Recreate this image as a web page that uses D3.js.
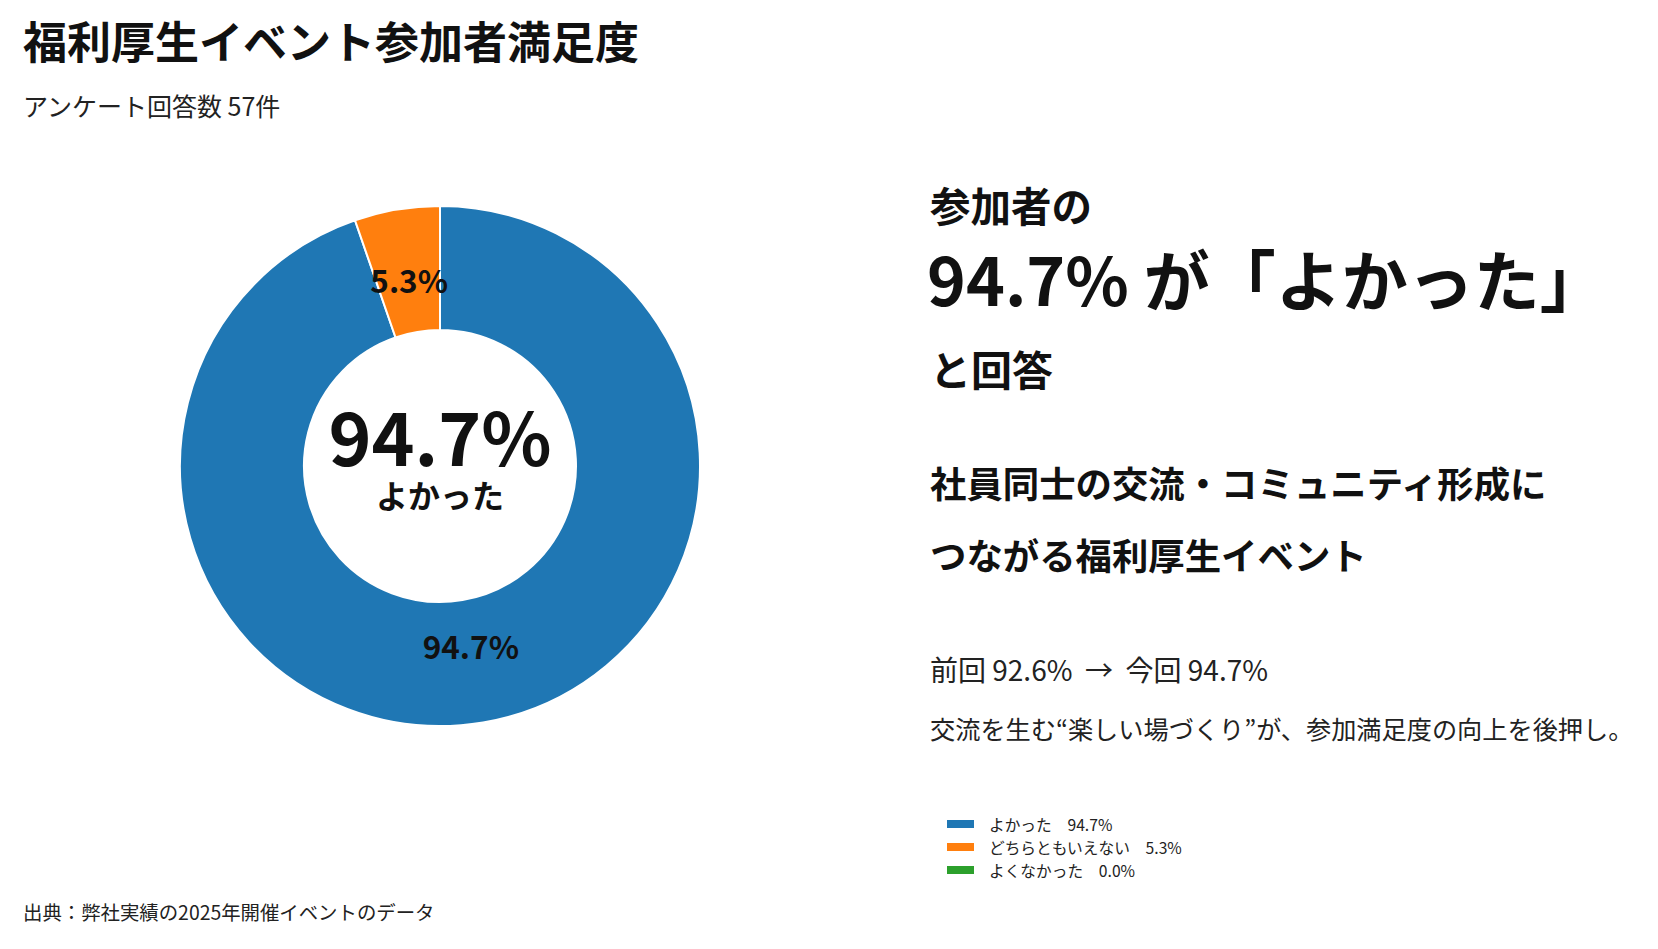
<!DOCTYPE html>
<html><head><meta charset="utf-8">
<script src="https://cdn.jsdelivr.net/npm/d3@7"></script>
<style>
html,body{margin:0;padding:0;background:#fff;}
svg{display:block;font-family:"Noto Sans CJK JP","Noto Sans",sans-serif;}
</style></head>
<body>
<svg id="chart" width="1658" height="949"></svg>
<script>
const categories = ["よかった", "どちらともいえない", "よくなかった"];
const values = [94.7, 5.3, 0.0];
const colors = ["#1f77b4", "#ff7f0e", "#2ca02c"];
const title = "福利厚生イベント参加者満足度";
const subtitle = "アンケート回答数 57件";
const source = "出典：弊社実績の2025年開催イベントのデータ";
const headline = ["参加者の", "94.7% が「よかった」", "と回答"];
const message = ["社員同士の交流・コミュニティ形成に", "つながる福利厚生イベント"];
const notes = ["前回 92.6%  →  今回 94.7%", "交流を生む“楽しい場づくり”が、参加満足度の向上を後押し。"];

const svg = d3.select("#chart");
const W = 1658, H = 949;
svg.append("rect").attr("width", W).attr("height", H).attr("fill", "#fff");

// Title
svg.append("text").attr("x", 23).attr("y", 40).attr("dominant-baseline", "central")
  .attr("font-size", 44).attr("font-weight", 700).attr("fill", "#111").text(title);
svg.append("text").attr("x", 23).attr("y", 105).attr("dominant-baseline", "central")
  .attr("font-size", 25).attr("fill", "#222").text(subtitle);

// Donut
const cx = 440, cy = 466, rOuter = 260, rInner = 136;
const color = d3.scaleOrdinal().domain(categories).range(colors);
const pie = d3.pie().sort(null).value(d => d.v);
const data = categories.map((c, i) => ({ c, v: values[i] }));
const arcs = pie(data);
const arc = d3.arc().innerRadius(rInner).outerRadius(rOuter);
const labelArc = d3.arc().innerRadius(186).outerRadius(186);
const g = svg.append("g").attr("transform", `translate(${cx},${cy})`);
g.selectAll("path").data(arcs.filter(d => d.data.v > 0)).join("path")
  .attr("d", arc).attr("fill", d => color(d.data.c))
  .attr("stroke", "#fff").attr("stroke-width", 2);
g.selectAll("text.lbl").data(arcs.filter(d => d.data.v > 0)).join("text")
  .attr("class", "lbl")
  .attr("transform", d => { const c = labelArc.centroid(d); return `translate(${c[0]},${c[1] - 4})`; })
  .attr("text-anchor", "middle").attr("dominant-baseline", "central")
  .attr("font-size", 31.5).attr("font-weight", 700).attr("fill", "#111")
  .text(d => d.data.v.toFixed(1) + "%");
// center text
g.append("text").attr("y", -32).attr("text-anchor", "middle").attr("dominant-baseline", "central")
  .attr("font-size", 73).attr("font-weight", 700).attr("fill", "#111")
  .text(values[0].toFixed(1) + "%");
g.append("text").attr("y", 28).attr("text-anchor", "middle").attr("dominant-baseline", "central")
  .attr("font-size", 32).attr("font-weight", 700).attr("fill", "#111")
  .text(categories[0]);

// Right side text
const rx = 930;
svg.append("text").attr("x", rx).attr("y", 204).attr("dominant-baseline", "central")
  .attr("font-size", 40.5).attr("font-weight", 700).attr("fill", "#111").text(headline[0]);
svg.append("text").attr("x", rx - 3).attr("y", 277).attr("dominant-baseline", "central")
  .attr("font-size", 66).attr("font-weight", 700).attr("fill", "#111").text(headline[1]);
svg.append("text").attr("x", rx).attr("y", 368).attr("dominant-baseline", "central")
  .attr("font-size", 41).attr("font-weight", 700).attr("fill", "#111").text(headline[2]);
svg.append("text").attr("x", rx).attr("y", 482).attr("dominant-baseline", "central")
  .attr("font-size", 36.4).attr("font-weight", 700).attr("fill", "#111").text(message[0]);
svg.append("text").attr("x", rx).attr("y", 554).attr("dominant-baseline", "central")
  .attr("font-size", 36.4).attr("font-weight", 700).attr("fill", "#111").text(message[1]);
svg.append("text").attr("x", rx).attr("y", 669).attr("dominant-baseline", "central")
  .attr("font-size", 28).attr("fill", "#222").style("white-space", "pre").text(notes[0]);
svg.append("text").attr("x", rx).attr("y", 728).attr("dominant-baseline", "central")
  .attr("font-size", 25.2).attr("fill", "#222").text(notes[1]);

// Legend
const lg = svg.append("g").attr("transform", "translate(947,824)");
const rows = lg.selectAll("g").data(data).join("g")
  .attr("transform", (d, i) => `translate(0,${i * 23})`);
rows.append("rect").attr("x", 0).attr("y", -4).attr("width", 27).attr("height", 8)
  .attr("fill", d => color(d.c));
rows.append("text").attr("x", 42).attr("y", 0).attr("dominant-baseline", "central")
  .attr("font-size", 15.7).attr("fill", "#222")
  .text(d => d.c + "　" + d.v.toFixed(1) + "%");

// Footnote
svg.append("text").attr("x", 23).attr("y", 911).attr("dominant-baseline", "central")
  .attr("font-size", 19.4).attr("fill", "#222").text(source);
</script>
</body></html>
